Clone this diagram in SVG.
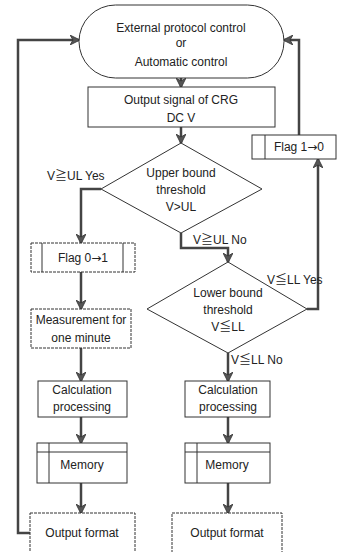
<svg xmlns="http://www.w3.org/2000/svg" width="340" height="552" viewBox="0 0 340 552">
<defs>
<style>
.box{fill:#fff;stroke:#333;stroke-width:1}
.dash{stroke-dasharray:3,1}
.t{font-family:"Liberation Sans","Noto Sans CJK JP",sans-serif;font-size:12px;fill:#222;text-anchor:middle}
.l{font-family:"Liberation Sans","Noto Sans CJK JP",sans-serif;font-size:12px;fill:#222}
.ar{font-family:"DejaVu Sans",sans-serif}
.c{fill:none;stroke:#444;stroke-width:2.5;stroke-linejoin:miter}
</style>
<marker id="ah" markerUnits="userSpaceOnUse" markerWidth="10" markerHeight="10" viewBox="0 0 10 10" refX="9" refY="5" orient="auto">
<path d="M0,0 L10,5 L0,10 L3,5 Z" fill="#555" stroke="#333" stroke-width="0.8"/>
</marker>
</defs>
<rect width="340" height="552" fill="#fff"/>

<g id="connectors">
<path class="c" marker-end="url(#ah)" d="M181,78 V87"/>
<path class="c" marker-end="url(#ah)" d="M181,127 V143"/>
<path class="c" marker-end="url(#ah)" d="M101,189 H81 V243"/>
<path class="c" marker-end="url(#ah)" d="M181,233 V248 H228 V262"/>
<path class="c" marker-end="url(#ah)" d="M307,309 H318 V159"/>
<path class="c" marker-end="url(#ah)" d="M299,135 V40 H284"/>
<path class="c" marker-end="url(#ah)" d="M81,272 V309"/>
<path class="c" marker-end="url(#ah)" d="M81,348 V381"/>
<path class="c" marker-end="url(#ah)" d="M81,417 V443"/>
<path class="c" marker-end="url(#ah)" d="M81,483 V513"/>
<path class="c" marker-end="url(#ah)" d="M30,533 H18 V40 H79"/>
<path class="c" marker-end="url(#ah)" d="M228,353 V381"/>
<path class="c" marker-end="url(#ah)" d="M228,417 V443"/>
<path class="c" marker-end="url(#ah)" d="M228,483 V513"/>
<text class="l" x="47" y="180">V≧UL Yes</text>
<text class="l" x="193" y="244">V≧UL No</text>
<text class="l" x="267" y="284">V≦LL Yes</text>
<text class="l" x="231" y="364">V≦LL No</text>
</g>

<g id="start">
<rect class="box" x="79" y="5" width="205" height="73" rx="36.5"/>
<text class="t" x="181" y="32">External protocol control</text>
<text class="t" x="181" y="47">or</text>
<text class="t" x="181" y="66">Automatic control</text>
</g>

<g id="output-signal">
<rect class="box" x="88" y="87" width="187" height="40"/>
<text class="t" x="181" y="104">Output signal of CRG</text>
<text class="t" x="181" y="122">DC V</text>
</g>

<g id="upper-threshold">
<polygon class="box" points="181,143 262,189 181,233 101,189"/>
<text class="t" x="181" y="177">Upper bound</text>
<text class="t" x="181" y="194">threshold</text>
<text class="t" x="181" y="211">V&gt;UL</text>
</g>

<g id="flag01">
<rect class="box dash" x="31" y="243" width="104" height="29"/>
<line class="box" x1="42" y1="243" x2="42" y2="272"/>
<line class="box" x1="123" y1="243" x2="123" y2="272"/>
<text class="t" x="83" y="262">Flag 0<tspan class="ar">→</tspan>1</text>
</g>

<g id="measurement">
<rect class="box dash" x="31" y="309" width="100" height="39"/>
<text class="t" x="81" y="324">Measurement for</text>
<text class="t" x="81" y="342">one minute</text>
</g>

<g id="calc-left">
<rect class="box" x="38" y="381" width="89" height="36"/>
<text class="t" x="82" y="394">Calculation</text>
<text class="t" x="82" y="411">processing</text>
</g>

<g id="memory-left">
<rect class="box" x="37" y="443" width="90" height="40"/>
<line class="box" x1="49" y1="443" x2="49" y2="483"/>
<line class="box" x1="37" y1="452" x2="127" y2="452"/>
<text class="t" x="82" y="469">Memory</text>
</g>

<g id="output-left">
<rect class="box dash" x="30" y="513" width="105" height="42"/>
<text class="t" x="82" y="537">Output format</text>
</g>

<g id="lower-threshold">
<polygon class="box" points="228,262 307,309 228,353 147,309"/>
<text class="t" x="228" y="297">Lower bound</text>
<text class="t" x="228" y="314">threshold</text>
<text class="t" x="228" y="331">V≦LL</text>
</g>

<g id="flag10">
<rect class="box" x="252" y="135" width="84" height="24"/>
<line class="box" x1="265" y1="135" x2="265" y2="159"/>
<text class="t" x="299" y="151">Flag 1<tspan class="ar">→</tspan>0</text>
</g>

<g id="calc-right">
<rect class="box" x="185" y="381" width="85" height="36"/>
<text class="t" x="228" y="394">Calculation</text>
<text class="t" x="228" y="411">processing</text>
</g>

<g id="memory-right">
<rect class="box" x="185" y="443" width="85" height="40"/>
<line class="box" x1="197" y1="443" x2="197" y2="483"/>
<line class="box" x1="185" y1="452" x2="270" y2="452"/>
<text class="t" x="227" y="469">Memory</text>
</g>

<g id="output-right">
<rect class="box dash" x="172" y="513" width="110" height="42"/>
<text class="t" x="227" y="537">Output format</text>
</g>
</svg>
